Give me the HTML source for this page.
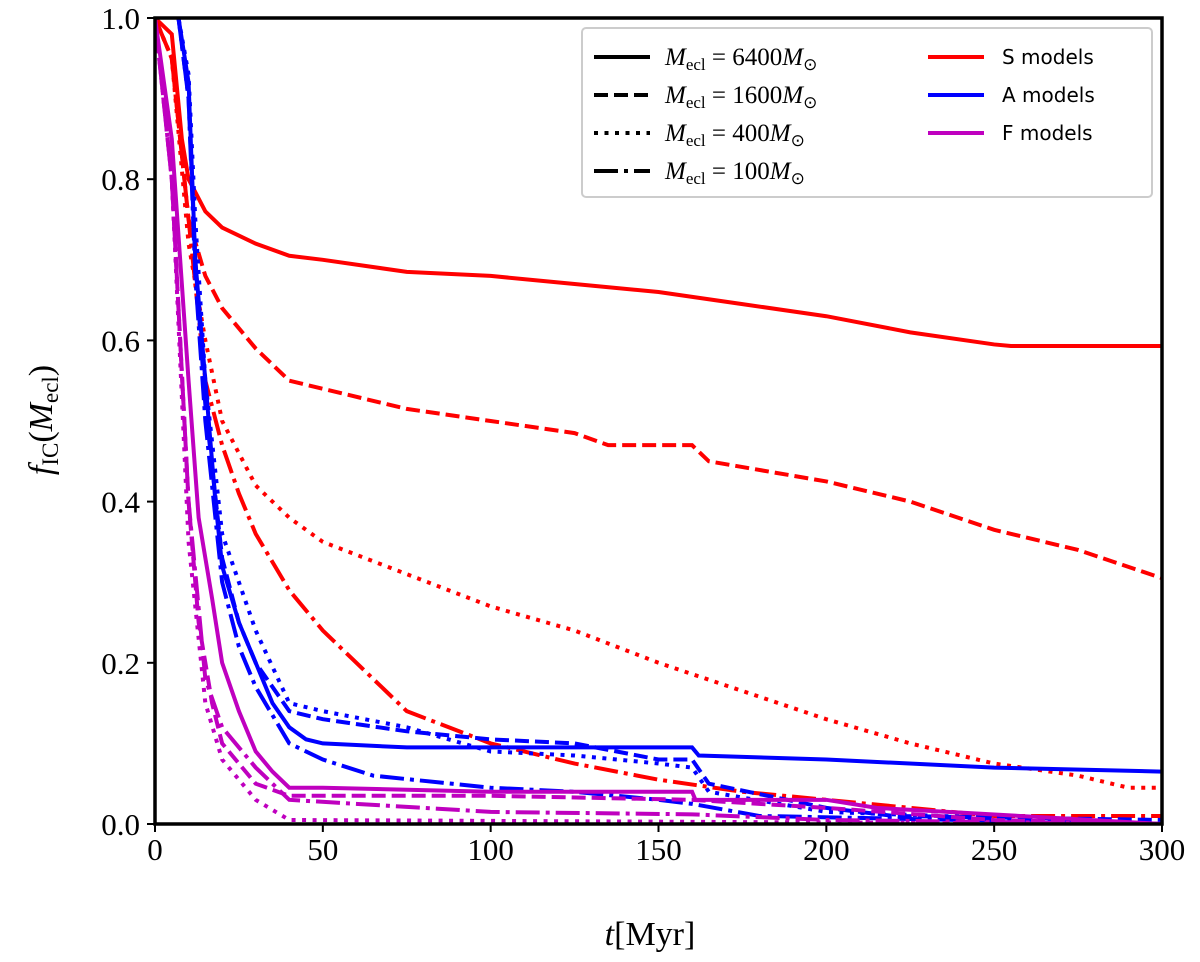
<!DOCTYPE html>
<html><head><meta charset="utf-8"><style>
body{margin:0;background:#fff}
svg{display:block}
.serif{font-family:"Liberation Serif",serif}
.sans{font-family:"DejaVu Sans","Liberation Sans",sans-serif}
</style></head><body>
<svg id="chart" width="1200" height="962"></svg>
<script>
const xTicks=[0,50,100,150,200,250,300];
const yTicks=[0.0,0.2,0.4,0.6,0.8,1.0];
const sSolidT=[0,5,8,10,15,20,30,40,50,75,100,125,150,175,200,225,250,255,300];
const sSolidV=[1,0.98,0.85,0.80,0.76,0.74,0.72,0.705,0.70,0.685,0.68,0.67,0.66,0.645,0.63,0.61,0.595,0.593,0.593];
const sDashT=[0,5,10,15,20,30,40,50,75,100,125,135,160,165,200,225,250,275,300];
const sDashV=[1,0.95,0.75,0.68,0.64,0.59,0.55,0.54,0.515,0.50,0.485,0.47,0.47,0.45,0.425,0.40,0.365,0.34,0.305];
const sDotT=[0,5,10,15,20,30,40,50,75,100,125,150,175,200,225,250,275,290,300];
const sDotV=[1,0.95,0.72,0.60,0.50,0.42,0.38,0.35,0.31,0.27,0.24,0.20,0.165,0.13,0.10,0.075,0.06,0.045,0.045];
const sDdT=[0,5,10,15,20,25,30,40,50,60,75,100,125,150,175,200,225,250,300];
const sDdV=[1,0.95,0.75,0.55,0.47,0.41,0.36,0.29,0.24,0.20,0.14,0.10,0.075,0.055,0.04,0.03,0.02,0.01,0.01];
const aSolidT=[5,7,10,12,15,18,20,25,30,35,40,45,50,75,100,160,162,200,250,300];
const aSolidV=[1.05,1.0,0.92,0.7,0.55,0.40,0.32,0.25,0.2,0.15,0.12,0.105,0.10,0.095,0.095,0.095,0.085,0.08,0.07,0.065];
const aDashT=[5,7,10,12,15,20,25,30,40,50,75,100,125,150,160,165,200,220,300];
const aDashV=[1.05,1.0,0.9,0.7,0.52,0.33,0.25,0.2,0.14,0.13,0.115,0.105,0.10,0.08,0.08,0.05,0.02,0.01,0.005];
const aDotT=[5,7,10,12,15,20,25,30,40,50,75,100,125,150,160,165,200,300];
const aDotV=[1.05,1.0,0.93,0.75,0.55,0.36,0.3,0.24,0.15,0.14,0.12,0.09,0.085,0.075,0.07,0.04,0.015,0];
const aDdT=[5,7,10,12,15,20,25,30,40,50,65,100,125,150,160,180,300];
const aDdV=[1.05,1.0,0.9,0.68,0.5,0.3,0.22,0.17,0.10,0.08,0.06,0.045,0.04,0.03,0.025,0.01,0];
const fSolidT=[0,5,10,13,17,20,25,30,35,40,50,100,160,161,200,215,300];
const fSolidV=[1,0.85,0.55,0.38,0.28,0.2,0.14,0.09,0.065,0.045,0.045,0.04,0.04,0.03,0.03,0.02,0];
const fDashT=[0,5,10,13,17,20,30,40,100,160,200,250,300];
const fDashV=[1,0.8,0.4,0.25,0.15,0.1,0.05,0.035,0.035,0.03,0.02,0.005,0];
const fDotT=[0,5,10,15,20,30,40,300];
const fDotV=[1,0.8,0.35,0.15,0.08,0.03,0.005,0];
const fDdT=[0,5,10,15,20,30,40,100,160,200,300];
const fDdV=[1,0.8,0.4,0.18,0.12,0.07,0.03,0.015,0.012,0.005,0];

const X0=155,X1=1162,Y0=824,Y1=18;
const sx=t=>X0+(X1-X0)*t/300, sy=v=>Y0+(Y1-Y0)*v;
const svg=document.getElementById('chart');const NS='http://www.w3.org/2000/svg';
function mk(tag,attrs,parent){const e=document.createElementNS(NS,tag);for(const k in attrs)e.setAttribute(k,attrs[k]);(parent||svg).appendChild(e);return e;}
const dashes={solid:'',dash:'14,6',dot:'4,6.5',dd:'24,6,4,6'};
const cRed='#ff0000',cBlue='#0000ff',cMag='#bf00bf';
const clip=mk('clipPath',{id:'cp'});mk('rect',{x:X0,y:Y1,width:X1-X0,height:Y0-Y1},clip);
const g=mk('g',{'clip-path':'url(#cp)'});


const series=[
 ['s-6400',sSolidT,sSolidV,cRed,'solid'],['s-1600',sDashT,sDashV,cRed,'dash'],['s-400',sDotT,sDotV,cRed,'dot'],['s-100',sDdT,sDdV,cRed,'dd'],
 ['a-6400',aSolidT,aSolidV,cBlue,'solid'],['a-1600',aDashT,aDashV,cBlue,'dash'],['a-400',aDotT,aDotV,cBlue,'dot'],['a-100',aDdT,aDdV,cBlue,'dd'],
 ['f-6400',fSolidT,fSolidV,cMag,'solid'],['f-1600',fDashT,fDashV,cMag,'dash'],['f-400',fDotT,fDotV,cMag,'dot'],['f-100',fDdT,fDdV,cMag,'dd']];
for(const [n,T,V,c,d] of series){
 const p=mk('polyline',{points:T.map((t,i)=>sx(t)+','+sy(V[i])).join(' '),fill:'none',stroke:c,'stroke-width':4,'stroke-dasharray':dashes[d]},g);
 
 
}
for(const t of xTicks){
 mk('line',{x1:sx(t),x2:sx(t),y1:Y0,y2:Y0+8,stroke:'#000','stroke-width':2});
 const tx=mk('text',{x:sx(t),y:860,'font-size':31,'text-anchor':'middle',class:'serif'});tx.textContent=t;
 
 
}
for(const v of yTicks){
 mk('line',{x1:X0-8,x2:X0,y1:sy(v),y2:sy(v),stroke:'#000','stroke-width':2});
 const tx=mk('text',{x:140,y:sy(v)+11,'font-size':31,'text-anchor':'end',class:'serif'});tx.textContent=v.toFixed(1);
 
 
}
const fr=mk('rect',{x:X0,y:Y1,width:X1-X0,height:Y0-Y1,fill:'none',stroke:'#000','stroke-width':3.5});


</script>
<svg style="position:absolute;left:0;top:0" width="1200" height="962">
<text class="serif" x="650" y="945" font-size="34" text-anchor="middle"><tspan font-style="italic">t</tspan>[Myr]</text>
<text class="serif" transform="translate(52,420) rotate(-90)" font-size="34" text-anchor="middle"><tspan font-style="italic">f</tspan><tspan font-size="23" dy="6">IC</tspan><tspan dy="-6">(</tspan><tspan font-style="italic">M</tspan><tspan font-size="23" dy="6">ecl</tspan><tspan dy="-6">)</tspan></text>
<g class="serif" font-size="25">
<rect x="582" y="28" width="570" height="169" rx="4" fill="#fff" fill-opacity="0.85" stroke="#ccc" stroke-width="2"/>
<line x1="594" y1="57" x2="650" y2="57" stroke="#000" stroke-width="4"/>
<line x1="594" y1="95" x2="650" y2="95" stroke="#000" stroke-width="4" stroke-dasharray="14,6"/>
<line x1="594" y1="133" x2="650" y2="133" stroke="#000" stroke-width="4" stroke-dasharray="4,6.5"/>
<line x1="594" y1="171" x2="650" y2="171" stroke="#000" stroke-width="4" stroke-dasharray="24,6,4,6"/>
<text x="665" y="65"><tspan font-style="italic">M</tspan><tspan font-size="17" dy="5">ecl</tspan><tspan dy="-5"> = 6400</tspan><tspan font-style="italic">M</tspan><tspan font-size="17" dy="5">⊙</tspan></text>
<text x="665" y="103"><tspan font-style="italic">M</tspan><tspan font-size="17" dy="5">ecl</tspan><tspan dy="-5"> = 1600</tspan><tspan font-style="italic">M</tspan><tspan font-size="17" dy="5">⊙</tspan></text>
<text x="665" y="141"><tspan font-style="italic">M</tspan><tspan font-size="17" dy="5">ecl</tspan><tspan dy="-5"> = 400</tspan><tspan font-style="italic">M</tspan><tspan font-size="17" dy="5">⊙</tspan></text>
<text x="665" y="179"><tspan font-style="italic">M</tspan><tspan font-size="17" dy="5">ecl</tspan><tspan dy="-5"> = 100</tspan><tspan font-style="italic">M</tspan><tspan font-size="17" dy="5">⊙</tspan></text>
<line x1="928" y1="57" x2="984" y2="57" stroke="#ff0000" stroke-width="4"/>
<line x1="928" y1="95" x2="984" y2="95" stroke="#0000ff" stroke-width="4"/>
<line x1="928" y1="133" x2="984" y2="133" stroke="#bf00bf" stroke-width="4"/>
<text class="sans" x="1002" y="64" font-size="20">S models</text>
<text class="sans" x="1002" y="102" font-size="20">A models</text>
<text class="sans" x="1002" y="140" font-size="20">F models</text>
</g>
</svg>
</body></html>
